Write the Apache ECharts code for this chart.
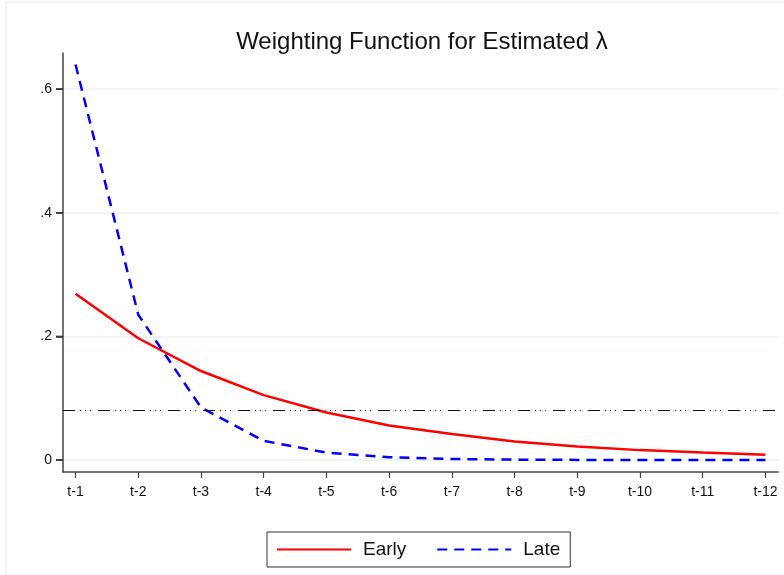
<!DOCTYPE html>
<html>
<head>
<meta charset="utf-8">
<script src="https://cdn.jsdelivr.net/npm/echarts@6/dist/echarts.min.js"></script>
<style>
  html, body { margin: 0; padding: 0; background: #fff; }
  #chart { width: 784px; height: 575px; }
</style>
</head>
<body>
<div id="chart"></div>
<script>
// lags t-1 .. t-12
const lags = [1, 2, 3, 4, 5, 6, 7, 8, 9, 10, 11, 12];
const early = [0.269, 0.197, 0.144, 0.105, 0.077, 0.056, 0.042, 0.030, 0.022, 0.016, 0.012, 0.0085];
const late = [0.640, 0.235, 0.085, 0.031, 0.012, 0.0045, 0.0017, 0.0006, 0.0002, 0.0001, 0.00003, 0.00001];
const yTicks = [0, 0.2, 0.4, 0.6];
const refLevel = 0.0833;

const xMin = 0.8, xMax = 12.2;
const font = 'Liberation Sans, Arial, Helvetica, sans-serif';

const chart = echarts.init(document.getElementById('chart'), null, { renderer: 'canvas' });

chart.setOption({
  animation: false,
  backgroundColor: '#fff',
  textStyle: { fontFamily: font },
  graphic: [{
    type: 'rect',
    shape: { x: 6, y: 2, width: 790, height: 580 },
    style: { fill: 'none', stroke: '#e8f0f4', lineWidth: 1.5 },
    silent: true
  }],
  title: {
    text: 'Weighting Function for Estimated λ',
    left: 417,
    textAlign: 'center',
    top: 25,
    textStyle: { fontFamily: font, fontSize: 24, fontWeight: 'normal', color: '#111' }
  },
  grid: { left: 63, right: 6, top: 53, bottom: 103 },
  xAxis: {
    type: 'value',
    min: xMin,
    max: xMax,
    axisLine: { onZero: false, lineStyle: { color: '#444', width: 1.5 } },
    axisTick: { customValues: lags, length: 6, lineStyle: { color: '#444', width: 1.2 } },
    axisLabel: {
      customValues: lags,
      formatter: v => 't-' + v,
      color: '#111', fontSize: 14, fontFamily: font, margin: 13
    },
    splitLine: { show: false }
  },
  yAxis: {
    type: 'value',
    min: -0.0194,
    max: 0.6586,
    axisLine: { show: true, lineStyle: { color: '#444', width: 1.5 } },
    axisTick: { show: true, customValues: yTicks, length: 7, lineStyle: { color: '#333', width: 1.5 } },
    axisLabel: {
      customValues: yTicks,
      formatter: v => v === 0 ? '0' : String(Math.round(v * 10) / 10).replace(/^0/, ''),
      color: '#111', fontSize: 14, fontFamily: font, margin: 11
    },
    splitLine: { show: true, lineStyle: { color: '#eaf1f3', width: 1.5 } }
  },
  legend: {
    left: 267,
    top: 532,
    itemWidth: 74,
    itemHeight: 14,
    itemGap: 30,
    padding: [8, 10, 8, 9],
    borderColor: '#333',
    borderWidth: 1,
    itemStyle: { opacity: 0 },
    textStyle: { fontSize: 19, fontFamily: font, color: '#111', padding: [0, 0, 0, 7] },
    data: ['Early', 'Late']
  },
  series: [
    {
      name: 'Early',
      type: 'line',
      data: lags.map((l, i) => [l, early[i]]),
      symbol: 'none',
      lineStyle: { color: '#ff0000', width: 2.5 },
      itemStyle: { color: '#ff0000' },
      z: 3,
      markLine: {
        silent: true,
        symbol: 'none',
        label: { show: false },
        lineStyle: { color: '#111', width: 1.2, type: [12, 5, 1, 4, 1, 4, 1, 7] },
        data: [{ yAxis: refLevel }]
      }
    },
    {
      name: 'Late',
      type: 'line',
      data: lags.map((l, i) => [l, late[i]]),
      symbol: 'none',
      lineStyle: { color: '#0000ff', width: 2.5, type: [10, 7] },
      itemStyle: { color: '#0000ff' },
      z: 4
    },
    {
      // y tick marks, placed through the axis scale
      name: 'yticks',
      type: 'custom',
      clip: false,
      silent: true,
      data: yTicks.map(v => [xMin, v]),
      renderItem: (params, api) => {
        const p = api.coord([api.value(0), api.value(1)]);
        return {
          type: 'rect',
          shape: { x: p[0] - 7, y: p[1] - 0.75, width: 7, height: 1.5 },
          style: { fill: '#333' }
        };
      },
      z: 5
    }
  ]
});
</script>
</body>
</html>
